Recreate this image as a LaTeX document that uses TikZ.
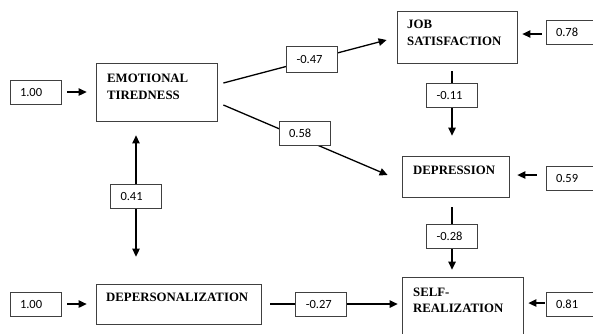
\documentclass[tikz,border=0pt]{standalone}
\usepackage{fontspec}
\setmainfont{Liberation Serif}
\newfontfamily\numfont{Carlito}
\usetikzlibrary{arrows.meta}
\begin{document}
\begin{tikzpicture}[x=1pt,y=-1pt,
  box/.style={draw=black!75, line width=0.8pt, inner sep=0pt},
  lab/.style={draw=black!75, line width=0.7pt, fill=white, font=\numfont\fontsize{12.5}{14}\selectfont, inner xsep=10pt, inner ysep=0pt, text width=31pt, align=left, minimum height=24pt},
  txt/.style={font=\bfseries\fontsize{12.8}{15}\selectfont, inner sep=0pt, anchor=base west},
  con/.style={line width=1.3pt},
  arr/.style={con, -{Triangle[length=8pt,width=7.5pt]}},
  darr/.style={con, {Triangle[length=8pt,width=7.5pt]}-{Triangle[length=8pt,width=7.5pt]}},
]
\useasboundingbox (0,0) rectangle (593,333);
\fill[white] (0,0) rectangle (593,333);

% main boxes
\node[box, minimum width=121pt, minimum height=58pt] (emo) at (156.5,92) {};
\node[box, minimum width=120pt, minimum height=52pt] (job) at (457,37) {};
\node[box, minimum width=107pt, minimum height=41pt] (dep) at (455.5,176.5) {};
\node[box, minimum width=121pt, minimum height=68pt] (self) at (462.5,311) {};
\node[box, minimum width=165pt, minimum height=40pt] (depers) at (178.5,304) {};

% box texts
\node[txt] (emoA) at (107,82) {EMOTIONAL};
\node[txt] (emoB) at (107,99) {TIREDNESS};
\node[txt] (jobA) at (407,28) {JOB};
\node[txt] (jobB) at (407,45) {SATISFACTION};
\node[txt] (depA) at (413,174) {DEPRESSION};
\node[txt] (selfA) at (413,296) {SELF-};
\node[txt] (selfB) at (413,312) {REALIZATION};
\node[txt] (dpA) at (106,301) {DEPERSONALIZATION};

% outer labels
\node[lab] (l1a) at (35.5,92.5) {1.00};
\node[lab] (l1b) at (35.5,304.5) {1.00};
\node[lab] (l078) at (571.5,32.5) {0.78};
\node[lab] (l059) at (571.5,178) {0.59};
\node[lab] (l081) at (571.5,304.5) {0.81};

% connectors with labels
\draw[arr] ([shift={(6,-9)}]emo.east) -- node[lab, pos=0.543, minimum height=26pt] (l047) {-0.47} ([shift={(-10,3)}]job.west);
\draw[arr] ([shift={(6,13)}]emo.east) -- node[lab, pos=0.494, yshift=6pt] (l058) {0.58} ([shift={(-14,-1.5)}]dep.west);
\draw[arr] ([shift={(-5,8)}]job.south) -- node[lab, pos=0.377] (l011) {-0.11} ([shift={(-3.5,-20)}]dep.north);
\draw[arr] ([shift={(-3.5,10)}]dep.south) -- node[lab, pos=0.46] (l028) {-0.28} ([shift={(-10.5,-7)}]self.north);
\draw[darr] ([shift={(-20.5,14)}]emo.south) -- node[lab, pos=0.5] (l041) {0.41} ([shift={(-42.5,-27)}]depers.north);
\draw[arr] ([shift={(9,0)}]depers.east) -- node[lab, pos=0.4] (l027) {-0.27} ([shift={(-4,-7)}]self.west);

% error arrows
\draw[arr] ([shift={(6,-0.5)}]l1a.east) -- ([shift={(-9,0)}]emo.west);
\draw[arr] ([shift={(6,-0.5)}]l1b.east) -- ([shift={(-9,0)}]depers.west);
\draw[arr] ([shift={(-4,1.5)}]l078.west) -- ([shift={(5,-3)}]job.east);
\draw[arr] ([shift={(-9,-3)}]l059.west) -- ([shift={(8,-1.5)}]dep.east);
\draw[arr] ([shift={(-1,-1.5)}]l081.west) -- ([shift={(5,-8)}]self.east);
\end{tikzpicture}
\end{document}
